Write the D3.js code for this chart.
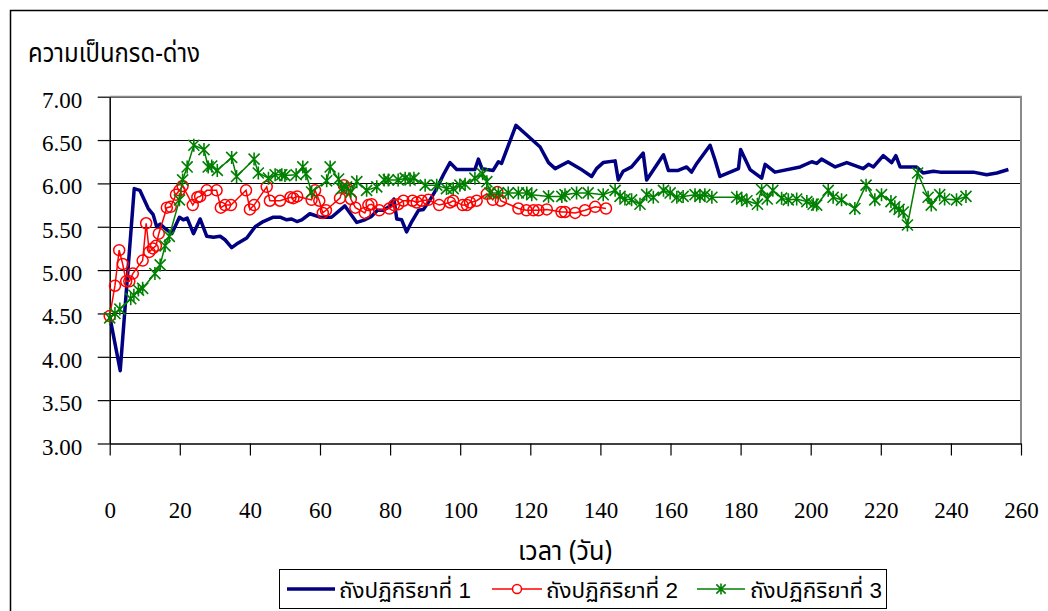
<!DOCTYPE html>
<html>
<head>
<meta charset="utf-8">
<script src="https://cdn.jsdelivr.net/npm/d3@7"></script>
<style>
  body { margin: 0; background: #fff; }
  svg { display: block; }
</style>
</head>
<body>
<script>
// chart size
const width = 1048;
const height = 611;

// tank 1 (days, pH)
const tank1Days = [0, 3, 7, 8.6, 11, 12.4, 13.4, 14.4, 15.8, 17.7, 19.9, 21, 22.1, 23.9, 25.8, 27.7, 29.6, 31.5, 32.9, 34.8,
  36.2, 39.1, 41.5, 43.8, 46.7, 48.6, 50.5, 51.9, 53.4, 54.8, 57.1, 60, 63.3, 67.1, 70.5, 72.8, 74.7, 76.4, 78.1, 80,
  81.1, 81.9, 83.3, 84.7, 86.2, 88.1, 89.5, 91.4, 93.3, 95.2, 97.1, 99, 104.2, 105.2, 106.2, 107.6, 109.4, 110.9, 111.8, 115.9,
  122.8, 125.2, 127.1, 130.8, 134.2, 137.5, 138.9, 140.8, 144.2, 145.1, 146.5, 148.9, 152.2, 153.2, 158, 159.4, 162.2, 164.6, 166, 167.5,
  171.3, 172.7, 174.1, 179.4, 180, 182.7, 186, 187, 189.8, 197, 200.3, 201.7, 203.1, 207, 210.3, 215, 216.5, 217.9, 220.7, 223.1,
  224.3, 225.5, 230.2, 232.1, 235, 236.9, 246.4, 250.2, 253.1, 256.4];
const tank1Ph = [4.47, 3.84, 5.94, 5.92, 5.71, 5.64, 5.50, 5.53, 5.48, 5.42, 5.61, 5.58, 5.60, 5.42, 5.59, 5.39, 5.38, 5.39, 5.35, 5.26,
  5.30, 5.37, 5.50, 5.56, 5.61, 5.61, 5.58, 5.59, 5.56, 5.58, 5.65, 5.61, 5.61, 5.74, 5.55, 5.58, 5.62, 5.69, 5.69, 5.74,
  5.82, 5.59, 5.58, 5.44, 5.56, 5.69, 5.70, 5.81, 5.94, 6.10, 6.24, 6.16, 6.16, 6.28, 6.17, 6.16, 6.15, 6.25, 6.23, 6.67,
  6.42, 6.24, 6.17, 6.25, 6.17, 6.08, 6.17, 6.24, 6.26, 6.04, 6.14, 6.19, 6.35, 6.04, 6.33, 6.15, 6.15, 6.19, 6.13, 6.23,
  6.44, 6.27, 6.08, 6.17, 6.39, 6.16, 6.06, 6.22, 6.13, 6.19, 6.25, 6.23, 6.28, 6.19, 6.24, 6.17, 6.22, 6.19, 6.32, 6.24,
  6.32, 6.19, 6.19, 6.12, 6.14, 6.13, 6.13, 6.10, 6.12, 6.16];

// tank 2 (days, pH)
const tank2Days = [0, 1.5, 2.7, 3.7, 4.7, 5.6, 6.6, 9.4, 10.4, 11.3, 12.3, 13.2, 14, 16.3, 17.4, 18.9, 19.9, 20.8, 23.7, 25,
  25.8, 27.7, 30.5, 31.7, 32.9, 34.6, 38.9, 40, 41.2, 44.8, 45.7, 48.6, 51.6, 52.4, 53.5, 57.6, 58.6, 59.8, 60.8, 61.7,
  65.7, 66.8, 67.8, 68.8, 70.1, 72.8, 73.8, 74.7, 76.9, 79.8, 81.1, 82.3, 83.8, 86.4, 87.6, 89, 90.9, 94, 97.1, 98,
  100.7, 101.9, 102.8, 104.7, 107.6, 109.3, 110.6, 111.6, 116.6, 118.9, 120.9, 122.3, 124.7, 128.9, 129.9, 132.8, 135.6, 138.5, 141.6];
const tank2Ph = [4.47, 4.82, 5.23, 5.07, 4.87, 4.87, 4.96, 5.11, 5.54, 5.21, 5.25, 5.28, 5.42, 5.72, 5.73, 5.87, 5.92, 5.97, 5.75, 5.84,
  5.85, 5.92, 5.92, 5.72, 5.75, 5.75, 5.92, 5.70, 5.75, 5.96, 5.80, 5.80, 5.84, 5.83, 5.85, 5.81, 5.92, 5.80, 5.66, 5.69,
  5.83, 5.98, 5.94, 5.82, 5.72, 5.66, 5.75, 5.76, 5.69, 5.71, 5.75, 5.76, 5.80, 5.80, 5.78, 5.80, 5.81, 5.75, 5.78, 5.80,
  5.75, 5.75, 5.78, 5.80, 5.88, 5.81, 5.90, 5.80, 5.71, 5.69, 5.69, 5.69, 5.70, 5.67, 5.67, 5.66, 5.69, 5.73, 5.71];

// tank 3 (days, pH)
const tank3Days = [0, 1.5, 2.9, 6, 6.9, 8.2, 9.4, 12.9, 14.4, 15.8, 17, 19.9, 20.8, 22.1, 24, 26.9, 28.1, 29.1, 30.7, 34.8,
  36.2, 41.2, 42.4, 45.3, 47.2, 49.1, 50, 53.2, 55.1, 56, 57.6, 61.9, 62.9, 65.3, 66.2, 67.6, 68.8, 70.5, 73.3, 76.2,
  78.3, 79.5, 82.3, 84.3, 85.7, 86.8, 90, 93.3, 96.1, 98, 99.9, 101.4, 104.2, 106.4, 107.6, 108.5, 110.9, 113.7, 116.6, 119,
  120.4, 125.2, 129, 129.9, 133.2, 136.5, 140.8, 144.2, 145.6, 147, 148.9, 151.3, 153.2, 155.1, 158, 159.9, 161.8, 163.6, 167, 168.4,
  169.8, 171.8, 178.9, 180.3, 181.8, 184.8, 186, 187.6, 189.2, 191.7, 193.6, 196, 198.9, 200.7, 201.7, 205, 206.4, 208.8, 212.6, 215.8,
  218.3, 220.2, 222.9, 224, 225.2, 226.4, 227.6, 230.5, 233.5, 234.4, 236.8, 238.2, 241.6, 244.3];
const tank3Ph = [4.45, 4.50, 4.55, 4.67, 4.71, 4.77, 4.79, 4.96, 5.06, 5.28, 5.39, 5.81, 6.04, 6.19, 6.44, 6.39, 6.19, 6.20, 6.15, 6.30,
  6.08, 6.28, 6.12, 6.06, 6.10, 6.10, 6.09, 6.10, 6.19, 6.11, 5.90, 6.03, 6.19, 6.05, 5.94, 5.96, 5.90, 6.02, 5.92, 5.96,
  6.04, 6.04, 6.04, 6.06, 6.04, 6.06, 5.98, 5.98, 5.94, 5.94, 5.98, 5.99, 6.06, 6.11, 6.02, 5.89, 5.89, 5.89, 5.89, 5.89,
  5.87, 5.85, 5.85, 5.87, 5.89, 5.89, 5.87, 5.92, 5.85, 5.82, 5.81, 5.76, 5.87, 5.84, 5.92, 5.89, 5.84, 5.85, 5.87, 5.85,
  5.87, 5.84, 5.84, 5.82, 5.80, 5.76, 5.93, 5.82, 5.92, 5.83, 5.81, 5.82, 5.79, 5.76, 5.75, 5.92, 5.84, 5.81, 5.71, 5.98,
  5.81, 5.87, 5.79, 5.73, 5.70, 5.67, 5.52, 6.12, 5.84, 5.75, 5.87, 5.82, 5.81, 5.85];

// axis ticks and labels
const xTicks = [0, 20, 40, 60, 80, 100, 120, 140, 160, 180, 200, 220, 240, 260];
const yTicks = [3.0, 3.5, 4.0, 4.5, 5.0, 5.5, 6.0, 6.5, 7.0];
const yTitle = 'ความเป็นกรด-ด่าง';
const xTitle = 'เวลา (วัน)';
const seriesNames = ['ถังปฏิกิริยาที่ 1', 'ถังปฏิกิริยาที่ 2', 'ถังปฏิกิริยาที่ 3'];

const numFont = "'Liberation Serif', 'Times New Roman', serif";
const thaiFont = "'Noto Sans Thai', 'Liberation Serif', serif";
const sansFont = "'Liberation Sans', 'Noto Sans Thai', sans-serif";

const plotLeft = 109.7, plotRight = 1021, plotTop = 96.7, plotBottom = 443.5;

const svg = d3.select('body')
  .append('svg')
  .attr('width', width)
  .attr('height', height);

svg.append('rect')
  .attr('width', width)
  .attr('height', height)
  .attr('fill', '#fff');

// outer chart border
svg.append('rect')
  .attr('x', 10.5)
  .attr('y', 10.5)
  .attr('width', 1060)
  .attr('height', 700)
  .attr('fill', 'none')
  .attr('stroke', '#000')
  .attr('stroke-width', 1.5);

const x = d3.scaleLinear().domain([0, 260]).range([plotLeft, plotRight]);
const y = d3.scaleLinear().domain([3, 7]).range([plotBottom, plotTop]);

// gridlines
svg.append('g')
  .selectAll('line')
  .data(yTicks.filter(d => d > 3))
  .enter()
  .append('line')
  .attr('x1', plotLeft)
  .attr('x2', plotRight)
  .attr('y1', d => Math.round(y(d)) + 0.5)
  .attr('y2', d => Math.round(y(d)) + 0.5)
  .attr('stroke', '#000')
  .attr('stroke-width', 1);

// plot area border (top + right)
svg.append('path')
  .attr('d', `M${plotLeft},${plotTop}H${plotRight}V${plotBottom}`)
  .attr('fill', 'none')
  .attr('stroke', '#8a8a8a')
  .attr('stroke-width', 2);

// x axis
const xAxis = svg.append('g')
  .attr('transform', `translate(0,${plotBottom})`)
  .call(d3.axisBottom(x).tickValues(xTicks).tickSize(12).tickSizeOuter(0));
xAxis.attr('font-family', numFont).attr('font-size', 23);
xAxis.select('.domain').attr('stroke', '#000').attr('stroke-width', 1.5);
xAxis.selectAll('.tick line').attr('stroke', '#000').attr('stroke-width', 1.2);
xAxis.selectAll('text')
  .attr('y', 74.5)
  .attr('dy', null)
  .attr('fill', '#000');

// y axis
const yAxis = svg.append('g')
  .attr('transform', `translate(${plotLeft},0)`)
  .call(d3.axisLeft(y).tickValues(yTicks).tickSize(12).tickSizeOuter(0).tickFormat(d3.format('.2f')));
yAxis.attr('font-family', numFont).attr('font-size', 23);
yAxis.select('.domain').attr('stroke', '#000').attr('stroke-width', 1.5);
yAxis.selectAll('.tick line').attr('stroke', '#000').attr('stroke-width', 1.2);
yAxis.selectAll('text')
  .attr('x', -27.5)
  .attr('y', 10.5)
  .attr('dy', null)
  .attr('fill', '#000');

// titles
svg.append('text')
  .attr('x', 28)
  .attr('y', 62)
  .attr('textLength', 172)
  .attr('lengthAdjust', 'spacingAndGlyphs')
  .attr('font-family', thaiFont)
  .attr('font-size', 27)
  .text(yTitle);

svg.append('text')
  .attr('x', 518)
  .attr('y', 560)
  .attr('textLength', 94)
  .attr('lengthAdjust', 'spacingAndGlyphs')
  .attr('font-family', thaiFont)
  .attr('font-size', 27)
  .text(xTitle);

// star marker like the spreadsheet one: X plus vertical bar
function starPath(cx, cy, r) {
  const d = r * 0.85;
  return `M${cx},${cy - r}V${cy + r}M${cx - d},${cy - d}L${cx + d},${cy + d}M${cx - d},${cy + d}L${cx + d},${cy - d}`;
}

const line = d3.line().x(d => x(d[0])).y(d => y(d[1]));

const s1 = d3.zip(tank1Days, tank1Ph);
const s2 = d3.zip(tank2Days, tank2Ph);
const s3 = d3.zip(tank3Days, tank3Ph);

// tank 1
svg.append('path')
  .datum(s1)
  .attr('d', line)
  .attr('fill', 'none')
  .attr('stroke', '#000080')
  .attr('stroke-width', 3.5)
  .attr('stroke-linejoin', 'round');

// tank 2
svg.append('path')
  .datum(s2)
  .attr('d', line)
  .attr('fill', 'none')
  .attr('stroke', '#ff0000')
  .attr('stroke-width', 1.5);

svg.append('g')
  .selectAll('circle')
  .data(s2)
  .enter()
  .append('circle')
  .attr('cx', d => x(d[0]))
  .attr('cy', d => y(d[1]))
  .attr('r', 5.5)
  .attr('fill', 'none')
  .attr('stroke', '#ff0000')
  .attr('stroke-width', 1.5);

// tank 3
svg.append('path')
  .datum(s3)
  .attr('d', line)
  .attr('fill', 'none')
  .attr('stroke', '#008000')
  .attr('stroke-width', 1.5);

svg.append('g')
  .selectAll('path')
  .data(s3)
  .enter()
  .append('path')
  .attr('d', d => starPath(x(d[0]), y(d[1]), 6.5))
  .attr('fill', 'none')
  .attr('stroke', '#008000')
  .attr('stroke-width', 1.6);

// legend
const legend = svg.append('g');
legend.append('rect')
  .attr('x', 279.5)
  .attr('y', 569.5)
  .attr('width', 607)
  .attr('height', 39)
  .attr('fill', '#fff')
  .attr('stroke', '#000')
  .attr('stroke-width', 1);

const legendItems = [
  { name: seriesNames[0], x1: 287, x2: 335, tx: 339, color: '#000080', w: 3.5, mark: null },
  { name: seriesNames[1], x1: 492, x2: 542, tx: 546, color: '#ff0000', w: 1.5, mark: 'circle' },
  { name: seriesNames[2], x1: 697, x2: 745, tx: 750, color: '#008000', w: 1.5, mark: 'star' }
];

const ly = 589;
legendItems.forEach(it => {
  legend.append('line')
    .attr('x1', it.x1).attr('x2', it.x2)
    .attr('y1', ly).attr('y2', ly)
    .attr('stroke', it.color)
    .attr('stroke-width', it.w);
  const mx = (it.x1 + it.x2) / 2;
  if (it.mark === 'circle') {
    legend.append('circle')
      .attr('cx', mx).attr('cy', ly).attr('r', 4.5)
      .attr('fill', '#fff').attr('stroke', it.color).attr('stroke-width', 1.5);
  } else if (it.mark === 'star') {
    legend.append('path')
      .attr('d', starPath(mx, ly, 5.5))
      .attr('fill', 'none').attr('stroke', it.color).attr('stroke-width', 1.6);
  }
  legend.append('text')
    .attr('x', it.tx)
    .attr('y', 598)
    .attr('textLength', 132)
    .attr('lengthAdjust', 'spacingAndGlyphs')
    .attr('font-family', sansFont)
    .attr('font-size', 22)
    .text(it.name);
});
</script>
</body>
</html>
